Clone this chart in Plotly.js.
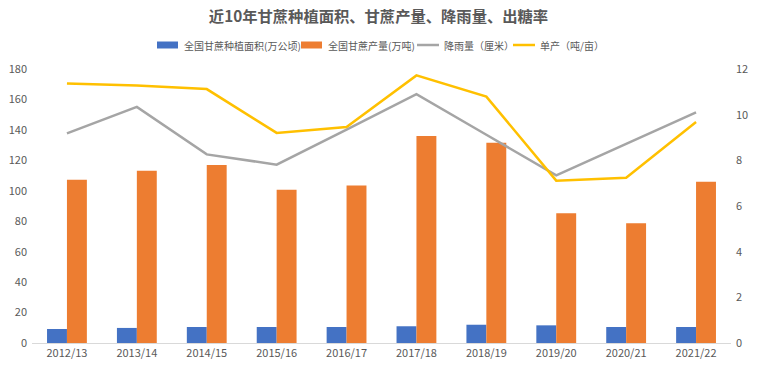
<!DOCTYPE html>
<html>
<head>
<meta charset="utf-8">
<script src="https://cdn.plot.ly/plotly-3.0.1.min.js"></script>
<style>html,body{margin:0;padding:0;background:#fff;}#chart{width:757px;height:371px;}</style>
</head>
<body>
<div id="chart"></div>
<script>
const seasons = ["2012/13","2013/14","2014/15","2015/16","2016/17","2017/18","2018/19","2019/20","2020/21","2021/22"];
const plantedArea = [9.2, 9.9, 10.5, 10.5, 10.5, 11.0, 12.0, 11.6, 10.5, 10.5];
const caneOutput = [107.3, 113.2, 117.0, 100.7, 103.5, 136.0, 131.6, 85.2, 78.6, 106.0];
const rainfall = [9.18, 10.34, 8.26, 7.81, 9.34, 10.90, 9.12, 7.34, 8.72, 10.10];
const yieldPerMu = [11.36, 11.28, 11.12, 9.20, 9.46, 11.72, 10.79, 7.11, 7.24, 9.68];
const leftTicks = [0,20,40,60,80,100,120,140,160,180];
const rightTicks = [0,2,4,6,8,10,12];
const seriesNames = ['全国甘蔗种植面积(万公顷)', '全国甘蔗产量(万吨)', '降雨量（厘米）', '单产（吨/亩）'];
const seriesColors = ['#4472C4', '#ED7D31', '#A5A5A5', '#FFC000'];

const fontFam = '"Noto Sans CJK SC", "Microsoft YaHei", sans-serif';
const W = 757, H = 371, M = {l:32, r:26, t:69, b:28};
const plotW = W - M.l - M.r, plotH = H - M.t - M.b;
const px2x = p => (p - M.l) / plotW;
const px2y = p => (H - M.b - p) / plotH;

const traces = [
  {type:'bar', name:seriesNames[0], x:seasons, y:plantedArea, marker:{color:seriesColors[0]}},
  {type:'bar', name:seriesNames[1], x:seasons, y:caneOutput, marker:{color:seriesColors[1]}},
  {type:'scatter', mode:'lines', name:seriesNames[2], x:seasons, y:rainfall, yaxis:'y2', line:{color:seriesColors[2], width:2.5}},
  {type:'scatter', mode:'lines', name:seriesNames[3], x:seasons, y:yieldPerMu, yaxis:'y2', line:{color:seriesColors[3], width:2.5}}
];

// custom legend (Excel style): symbol start px and kind
const legendSym = [157, 301, 417, 513];
const legendKind = ['rect','rect','line','line'];
const legendY = 45;
const shapes = [], annotations = [];
legendSym.forEach((sx, i) => {
  if (legendKind[i] === 'rect') {
    shapes.push({type:'rect', xref:'paper', yref:'paper', x0:px2x(sx), x1:px2x(sx+21), y0:px2y(legendY+3.5), y1:px2y(legendY-3.5), fillcolor:seriesColors[i], line:{width:0}});
  } else {
    shapes.push({type:'line', xref:'paper', yref:'paper', x0:px2x(sx), x1:px2x(sx+22), y0:px2y(legendY), y1:px2y(legendY), line:{color:seriesColors[i], width:2.5}});
  }
  annotations.push({xref:'paper', yref:'paper', x:px2x(sx+25), y:px2y(legendY), xanchor:'left', yanchor:'middle', showarrow:false, text:seriesNames[i], font:{family:fontFam, size:10, color:'#595959'}});
});

const layout = {
  width:W, height:H,
  margin:M,
  paper_bgcolor:'#fff', plot_bgcolor:'#fff',
  font:{family:fontFam, size:11, color:'#595959'},
  title:{text:'<b>近10年甘蔗种植面积、甘蔗产量、降雨量、出糖率</b>', x:0.5, xanchor:'center', y:1 - 17/H, yanchor:'middle', font:{family:fontFam, size:15.3, color:'#595959'}},
  showlegend:false,
  barmode:'group', bargap:0.43, bargroupgap:0,
  shapes:shapes, annotations:annotations,
  xaxis:{type:'category', showline:true, linecolor:'#D9D9D9', linewidth:1, showgrid:false, ticks:'', tickfont:{size:11, color:'#595959'}},
  yaxis:{range:[0,180], tickvals:leftTicks, ticktext:leftTicks.map(String), showgrid:false, zeroline:false, showline:false, ticks:'', tickfont:{size:11, color:'#595959'}, ticklabelstandoff:4},
  yaxis2:{range:[0,12], tickvals:rightTicks, ticktext:rightTicks.map(String), overlaying:'y', side:'right', showgrid:false, zeroline:false, showline:false, ticks:'', tickfont:{size:11, color:'#595959'}, ticklabelstandoff:4}
};
Plotly.newPlot('chart', traces, layout, {displayModeBar:false, staticPlot:true});
</script>
</body>
</html>
